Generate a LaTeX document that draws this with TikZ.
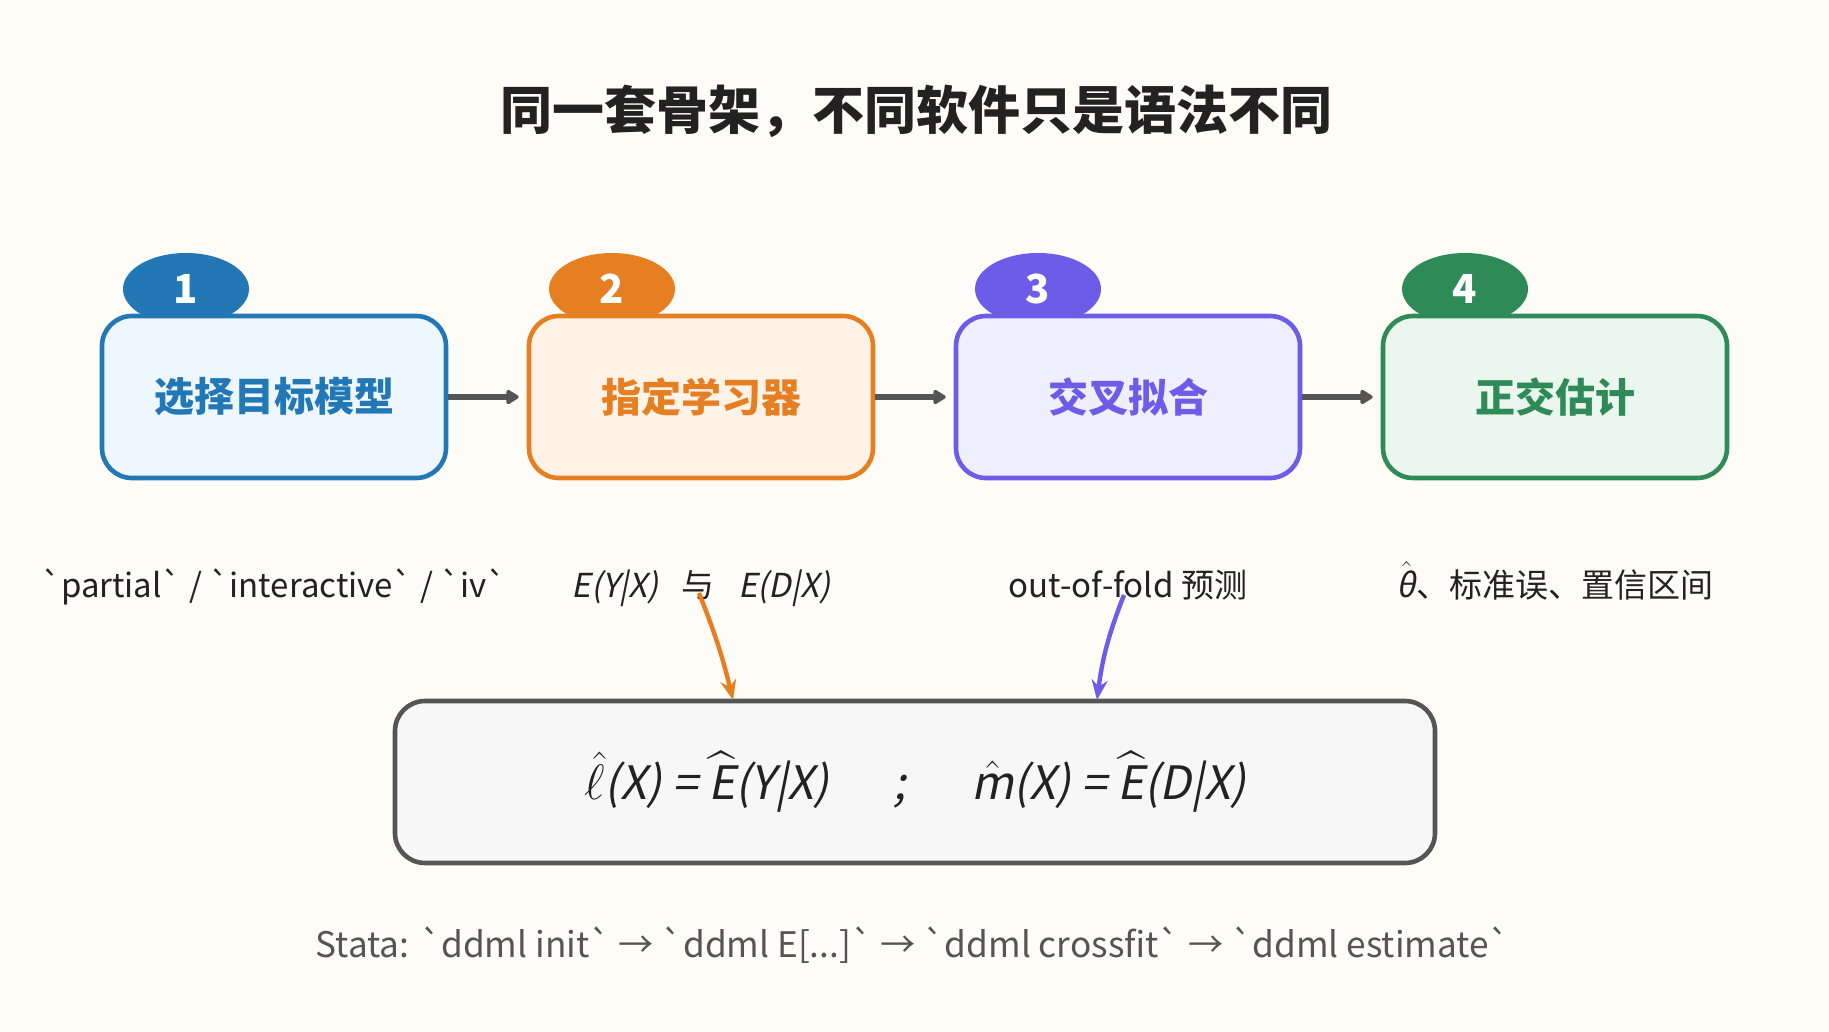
\documentclass[tikz,border=0pt]{standalone}
\usepackage{fontspec}
\usepackage{amsmath}
\usepackage{xcolor}
\setmainfont{Noto Sans CJK SC}
\newfontfamily\slfont[FakeSlant=0.2]{Noto Sans CJK SC}
\usetikzlibrary{arrows.meta,shapes.geometric,positioning}

\definecolor{bgcream}{HTML}{FDFCF7}
\definecolor{inkdark}{HTML}{222222}
\definecolor{inkgray}{HTML}{555555}
\definecolor{stepblue}{HTML}{2278B5}
\definecolor{fillblue}{HTML}{EEF6FF}
\definecolor{steporange}{HTML}{E67E22}
\definecolor{fillorange}{HTML}{FFF3E8}
\definecolor{steppurple}{HTML}{6C5CE7}
\definecolor{fillpurple}{HTML}{F0EFFF}
\definecolor{stepgreen}{HTML}{2E8B57}
\definecolor{fillgreen}{HTML}{EAF6EE}
\definecolor{fillgray}{HTML}{F7F7F7}

\begin{document}
\begin{tikzpicture}[x=0.5pt, y=-0.5pt,
    stepbox/.style={draw, line width=2.3pt, rounded corners=15pt,
        minimum width=172pt, minimum height=81pt,
        font=\fontsize{20}{24}\selectfont\bfseries},
    badge/.style={ellipse, minimum width=63pt, minimum height=36pt, inner sep=0pt,
        text=white, font=\fontsize{20}{24}\selectfont\bfseries},
    subtext/.style={anchor=base, text=inkdark, font=\fontsize{16.5}{19}\selectfont},
    flow/.style={draw=inkgray, line width=2.6pt, -{Triangle[length=7pt,width=8pt,round]}, shorten >=4pt},
    pointer/.style={line width=2.2pt, -{Stealth[length=10pt,width=8pt]}}]

    \fill[bgcream] (0,0) rectangle (1829,1032);
    \useasboundingbox (0,0) rectangle (1829,1032);

    % title
    \node[text=inkdark, font=\fontsize{26}{30}\selectfont\bfseries] (title) at (916,111) {同一套骨架，不同软件只是语法不同};

    % badges behind the boxes
    \node[badge, fill=stepblue] (b1) at (186,289) {1};
    \node[badge, fill=steporange] (b2) at (612,289) {2};
    \node[badge, fill=steppurple] (b3) at (1038,289) {3};
    \node[badge, fill=stepgreen] (b4) at (1465,289) {4};

    % steps
    \node[stepbox, draw=stepblue, fill=fillblue, text=stepblue] (s1) at (274,397) {选择目标模型};
    \node[stepbox, draw=steporange, fill=fillorange, text=steporange] (s2) at (701,397) {指定学习器};
    \node[stepbox, draw=steppurple, fill=fillpurple, text=steppurple] (s3) at (1128,397) {交叉拟合};
    \node[stepbox, draw=stepgreen, fill=fillgreen, text=stepgreen] (s4) at (1555,397) {正交估计};

    \draw[flow] (s1) -- (s2);
    \draw[flow] (s2) -- (s3);
    \draw[flow] (s3) -- (s4);

    % notes under the steps
    \node[subtext] (n1) at (274,597) {\textasciigrave partial\textasciigrave\ / \textasciigrave interactive\textasciigrave\ / \textasciigrave iv\textasciigrave};
    \node[subtext] (n2) at (701,597) {{\slfont E(Y|X)}\hspace{0.7em}与\hspace{0.7em}{\slfont E(D|X)}};
    \node[subtext] (n3) at (1128,597) {out-of-fold 预测};
    \node[subtext] (n4) at (1555,597) {$\hat{\text{\slfont θ}}$、标准误、置信区间};

    % nuisance functions
    \node[stepbox, draw=inkgray, fill=fillgray, text=inkdark, minimum width=520pt,
        font=\fontsize{23}{27}\selectfont] (fm) at (915,782)
        {{\slfont $\hat{\ell}$(X) = $\widehat{\text{E}}$(Y|X)\hspace{1.4em};\hspace{1.4em}$\hat{\text{m}}$(X) = $\widehat{\text{E}}$(D|X)}};

    \coordinate (e1) at (733,700);
    \coordinate (e2) at (1097,700);
    \draw[pointer, steporange] ([xshift=-1pt,yshift=2pt]n2.base) to[bend left=4] (e1);
    \draw[pointer, steppurple] ([xshift=-2pt,yshift=1pt]n3.base) to[bend right=7] (e2);

    % footer
    \node[text=inkgray, font=\fontsize{17.6}{21}\selectfont] (foot) at (913,945)
        {Stata: \textasciigrave ddml init\textasciigrave\ → \textasciigrave ddml E[...]\textasciigrave\ → \textasciigrave ddml crossfit\textasciigrave\ → \textasciigrave ddml estimate\textasciigrave};
\end{tikzpicture}
\end{document}
